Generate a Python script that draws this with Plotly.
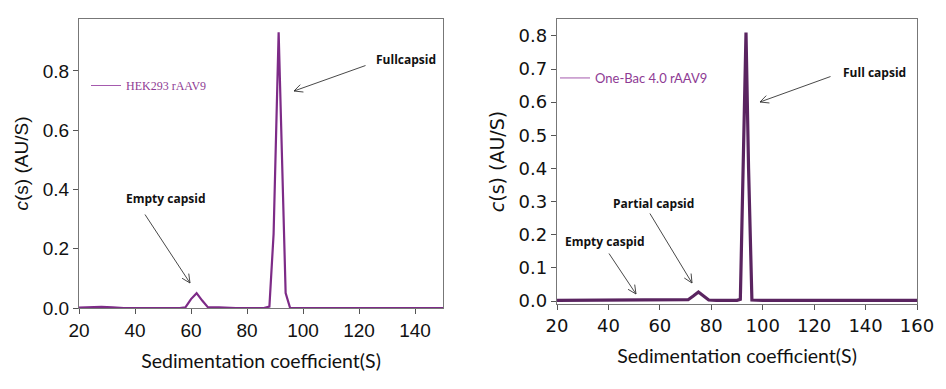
import math
import plotly.graph_objects as go

# HEK293 rAAV9 c(s) distribution
hek_s = [20, 24, 28, 32, 36, 56, 58, 60, 62, 64, 66, 70, 76, 86, 88, 89.5, 91.3, 93.8, 95.4, 100, 150]
hek_c = [0.001, 0.003, 0.004, 0.002, 0.0, 0.0, 0.002, 0.03, 0.05, 0.025, 0.003, 0.002, 0.0, 0.0, 0.005, 0.25, 0.93, 0.05, 0.0, 0.0, 0.0]

# One-Bac 4.0 rAAV9 c(s) distribution
bac_s = [20, 40, 50, 55, 60, 68, 71, 73, 75, 77, 79, 82, 90, 91.3, 92.5, 93.5, 94.5, 95.8, 100, 160]
bac_c = [0.002, 0.002, 0.003, 0.004, 0.003, 0.002, 0.004, 0.015, 0.027, 0.015, 0.003, 0.002, 0.002, 0.005, 0.4, 0.81, 0.4, 0.003, 0.002, 0.002]

left_xticks = [20, 40, 60, 80, 100, 120, 140]
left_yticks = [0.0, 0.2, 0.4, 0.6, 0.8]
right_xticks = [20, 40, 60, 80, 100, 120, 140, 160]
right_yticks = [0.0, 0.1, 0.2, 0.3, 0.4, 0.5, 0.6, 0.7, 0.8]

W, H = 946, 389
def px(x):
    return x / W
def py(y):
    return 1 - y / H

fig = go.Figure()
fig.add_trace(go.Scatter(x=hek_s, y=hek_c, mode="lines", line=dict(color="#7d2b87", width=2.2),
                         xaxis="x", yaxis="y", showlegend=False))
fig.add_trace(go.Scatter(x=bac_s, y=bac_c, mode="lines", line=dict(color="#5a2460", width=3.2),
                         xaxis="x2", yaxis="y2", showlegend=False))
# legend entries
fig.add_trace(go.Scatter(x=[None], y=[None], mode="lines", name="HEK293 rAAV9",
                         line=dict(color="#a55aae", width=1), xaxis="x", yaxis="y", legend="legend"))
fig.add_trace(go.Scatter(x=[None], y=[None], mode="lines", name="One-Bac 4.0 rAAV9",
                         line=dict(color="#a55aae", width=1), xaxis="x2", yaxis="y2", legend="legend2"))

axis_common = dict(showline=True, mirror=True, linecolor="#777777", linewidth=1.3, automargin=False,
                   ticks="outside", ticklen=5, tickcolor="#555555", showgrid=False, zeroline=False)

fig.update_layout(
    width=W, height=H, margin=dict(l=0, r=0, t=0, b=0, autoexpand=False),
    paper_bgcolor="white", plot_bgcolor="white",
    xaxis=dict(domain=[px(79), px(443)], range=[20, 150], tickvals=left_xticks,
               tickfont=dict(family="Liberation Sans, Arial", size=19, color="#111"),
               title=dict(text="Sedimentation coefficient(S)", font=dict(family="Lato", size=19.5, color="#111"), standoff=14),
               anchor="y", **axis_common),
    yaxis=dict(domain=[py(308), py(19)], range=[0, 0.975], tickvals=left_yticks, tickformat=".1f",
               tickfont=dict(family="Liberation Sans, Arial", size=19, color="#111"),
               title=dict(text="<i>c</i>(s) (AU/S)", font=dict(family="Liberation Sans, Arial", size=19, color="#111"), standoff=8),
               anchor="x", **axis_common),
    xaxis2=dict(domain=[px(557), px(917)], range=[20, 160], tickvals=right_xticks,
                tickfont=dict(family="DejaVu Sans", size=18, color="#111"),
                title=dict(text="Sedimentation coefficient(S)", font=dict(family="Lato", size=19.5, color="#111"), standoff=14),
                anchor="y2", **axis_common),
    yaxis2=dict(domain=[py(304), py(19)], range=[-0.009, 0.851], tickvals=right_yticks, tickformat=".1f",
                tickfont=dict(family="DejaVu Sans", size=18, color="#111"),
                title=dict(text="<i>c</i>(s) (AU/S)", font=dict(family="DejaVu Sans", size=19, color="#111"), standoff=8),
                anchor="x2", **axis_common),
    legend=dict(x=px(86), y=py(71), xanchor="left", yanchor="top", bgcolor="rgba(0,0,0,0)",
                font=dict(family="Liberation Serif", size=12, color="#8e3b94"), itemwidth=30),
    legend2=dict(x=px(555), y=py(63), xanchor="left", yanchor="top", bgcolor="rgba(0,0,0,0)",
                 font=dict(family="Lato", size=13, color="#8e3b94"), itemwidth=30),
)

ann_font = dict(family="Open Sans", size=12, color="#111")
def arrow(tx, ty, hx, hy):
    # shaft
    fig.add_annotation(xref="paper", yref="paper", x=px(hx), y=py(hy), ax=tx - hx, ay=ty - hy,
                       text="", showarrow=True, arrowhead=0, arrowwidth=0.9, arrowcolor="#333")
    # open chevron head
    dx, dy = tx - hx, ty - hy
    L = math.hypot(dx, dy)
    ux, uy = dx / L, dy / L
    for ang in (0.45, -0.45):
        c, s = math.cos(ang), math.sin(ang)
        vx, vy = (ux * c - uy * s) * 11, (ux * s + uy * c) * 11
        fig.add_annotation(xref="paper", yref="paper", x=px(hx), y=py(hy), ax=vx, ay=vy,
                           text="", showarrow=True, arrowhead=0, arrowwidth=0.9, arrowcolor="#333")

def label(cx, cy, text):
    fig.add_annotation(xref="paper", yref="paper", x=px(cx), y=py(cy), text="<b>" + text + "</b>",
                       showarrow=False, font=ann_font, xanchor="center", yanchor="middle")

label(406, 60, "Fullcapsid")
arrow(367, 65, 294, 91)
label(165, 198, "Empty capsid")
arrow(144, 213, 190, 283)

label(874, 72, "Full capsid")
arrow(832, 76, 760, 102)
label(653, 203, "Partial capsid")
arrow(649, 212, 692, 283)
label(604, 241, "Empty caspid")
arrow(608, 252, 636, 294)

fig.write_html("out.html", config={"displayModeBar": False},
               post_script="document.body.style.margin='0';document.body.style.overflow='hidden';")
